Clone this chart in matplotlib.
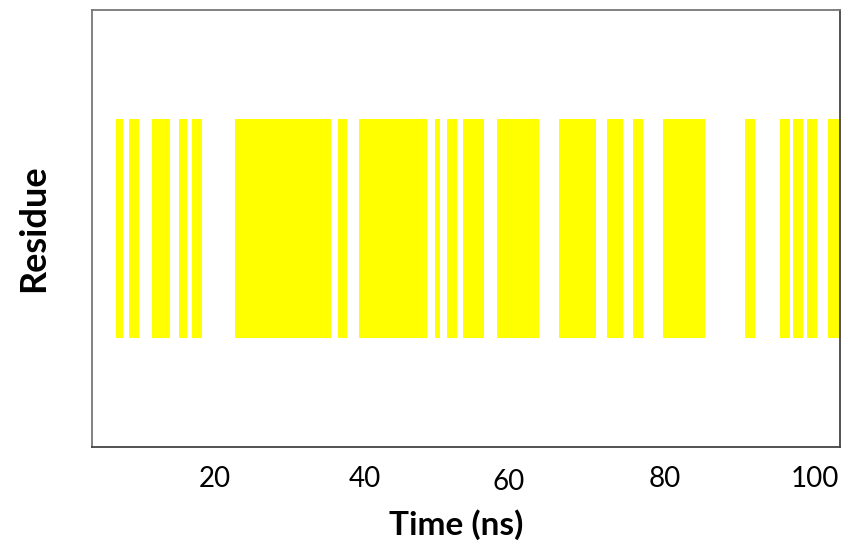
import numpy as np
import matplotlib
matplotlib.use("Agg")
import matplotlib.pyplot as plt
from matplotlib.transforms import ScaledTranslation

# residue "on" intervals (start, end) in ns
starts = [6.8, 8.5, 11.6, 15.2, 16.9, 22.7, 36.4, 39.2, 49.3, 50.9, 53.1,
          57.6, 65.9, 72.3, 75.7, 79.7, 90.7, 95.3, 97.1, 98.9, 101.7]
ends = [7.7, 9.9, 14.0, 16.3, 18.3, 35.5, 37.6, 48.3, 50.0, 52.3, 55.9,
        63.2, 70.8, 74.4, 77.1, 85.3, 92.0, 96.7, 98.4, 100.3, 103.5]
xticks = [20, 40, 60, 80, 100]

plt.rcParams['font.family'] = ['Lato', 'DejaVu Sans']

fig = plt.figure(figsize=(8.48, 5.46), dpi=100)
ax = fig.add_axes([92 / 848, 1 - 447 / 546, (840 - 92) / 848, (447 - 10) / 546])

widths = np.array(ends) - np.array(starts)
ax.broken_barh(list(zip(starts, widths)), (0.25, 0.5), facecolors='#ffff00', edgecolor='none')

ax.set_xlim(3.6, 103.3)
ax.set_ylim(0, 1)
ax.set_xticks(xticks)
ax.set_xticklabels([str(t) for t in xticks], fontsize=20)
ax.set_yticks([])
ax.tick_params(axis='x', length=0, pad=14)
# the "60" label sits a bit lower and left in the original
lbl = ax.get_xticklabels()[2]
lbl.set_transform(lbl.get_transform() + ScaledTranslation(-5 / 72, -2 / 72, fig.dpi_scale_trans))
for s in ax.spines.values():
    s.set_color('#777777')
    s.set_linewidth(1.3)
ax.spines['bottom'].set_color('#444444')
ax.spines['right'].set_color('#444444')

fig.text(456 / 848, 1 - 525 / 546, 'Time (ns)', fontsize=24, fontweight='bold',
         ha='center', va='center')
ax.set_ylabel('Residue', fontsize=26, fontweight='bold', labelpad=30)

fig.savefig('out.png', dpi=100)
